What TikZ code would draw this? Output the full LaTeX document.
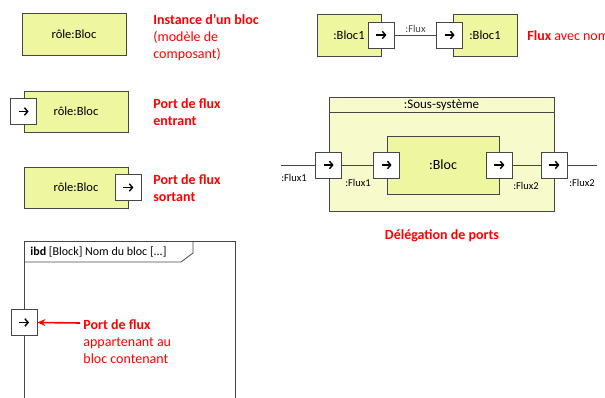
\documentclass[tikz,border=0pt]{standalone}
\usepackage{fontspec}
\setmainfont{Carlito}
\usetikzlibrary{positioning,arrows.meta,calc}
\definecolor{blocfill}{RGB}{239,246,160}
\definecolor{ssfill}{RGB}{247,251,203}
\definecolor{trait}{RGB}{70,70,70}
\definecolor{rouge}{RGB}{255,0,0}

\begin{document}
\begin{tikzpicture}[x=1pt,y=-1pt,line width=0.8pt,
	bloc/.style={draw=trait,fill=blocfill,inner sep=0,font=\fontsize{12.5}{15}\selectfont},
	port/.style={draw=trait,fill=white,minimum size=26,inner sep=0,
		path picture={\draw[black,line width=1.4pt,-{Straight Barb[length=3.2pt,width=7.5pt]}]
			([xshift=-5pt]path picture bounding box.center) -- ([xshift=5pt]path picture bounding box.center);}},
	note/.style={text=rouge,align=left,anchor=north west,inner sep=0,font=\fontsize{14}{17}\selectfont},
	flux/.style={font=\fontsize{10.5}{12}\selectfont,inner sep=0}]
	\useasboundingbox (0,0) rectangle (605,398);

	%instance d'un bloc
	\node[bloc,minimum width=104,minimum height=42] (b1) at (74,34) {rôle:Bloc};
	\node[note] (n1) at (153,14) {\textbf{Instance d’un bloc}\\(modèle de\\composant)};

	%ports entrant et sortant
	\node[bloc,minimum width=104,minimum height=41] (b2) at (76,111.5) {rôle:Bloc};
	\node[port] (p2) at (b2.west) {};
	\node[note] (n2) at (153,98) {\textbf{Port de flux}\\\textbf{entrant}};

	\node[bloc,minimum width=104,minimum height=41] (b3) at (76,187.5) {rôle:Bloc};
	\node[port] (p3) at (b3.east) {};
	\node[note] (n3) at (153,174) {\textbf{Port de flux}\\\textbf{sortant}};

	%flux avec nom
	\node[bloc,minimum width=64,minimum height=42] (bA) at (349,35) {:Bloc1};
	\node[bloc,minimum width=64,minimum height=42] (bB) at (485,35) {:Bloc1};
	\node[port] (pA) at (bA.east) {};
	\node[port] (pB) at ([xshift=-3pt]bB.west) {};
	\draw[trait] (pA) -- node[flux,above=2pt] (fA) {:Flux} (pB);
	\node[text=rouge,anchor=west,inner sep=0,font=\fontsize{14}{17}\selectfont] (n4) at (527,36) {\textbf{Flux} avec nom};

	%delegation de ports
	\node[draw=trait,fill=ssfill,minimum width=225,minimum height=114,inner sep=0] (ss) at (441.5,154) {};
	\node[inner sep=0,font=\fontsize{13}{15}\selectfont] (sst) at (441.5,105) {:Sous-système};
	\draw[trait] ([yshift=-16pt]ss.north west) -- ([yshift=-16pt]ss.north east);
	\node[bloc,minimum width=112,minimum height=58,font=\fontsize{14}{16}\selectfont] (bl) at (443,165) {:Bloc};
	\node[port] (d1) at (ss.west |- bl.center) {};
	\node[port] (d2) at (bl.west) {};
	\node[port] (d3) at (bl.east) {};
	\node[port] (d4) at (ss.east |- bl.center) {};
	\coordinate (in) at (281,165);
	\coordinate (out) at (597,165);
	\draw[trait] (in) -- (d1);
	\draw[trait] (d1) -- (d2);
	\draw[trait] (d3) -- (d4);
	\draw[trait] (d4) -- (out);
	\node[flux] (f1) at (294,178) {:Flux1};
	\node[flux] (f2) at (358,183) {:Flux1};
	\node[flux] (f3) at (526,186) {:Flux2};
	\node[flux] (f4) at (582,183) {:Flux2};
	\node[text=rouge,inner sep=0,font=\bfseries\fontsize{14}{17}\selectfont] (n5) at (442,236) {Délégation de ports};

	%cadre ibd
	\draw[trait] (24,400) -- (24,241) -- (235,241) -- (235,400);
	\draw[trait] (24,262) -- (181,262) -- (193,253) -- (193,241);
	\node[anchor=west,inner sep=0,font=\fontsize{12}{14}\selectfont] (ibd) at (30,252) {\textbf{ibd} [Block] Nom du bloc [...]};
	\node[port] (pF) at (24,322.5) {};
	\coordinate (fleche) at (80,323);
	\draw[rouge,line width=1.6pt,-{Stealth[length=8pt,width=7pt]}] (fleche) -- (pF.east);
	\node[note] (n6) at (83,319) {\textbf{Port de flux}\\appartenant au\\bloc contenant};
\end{tikzpicture}
\end{document}
